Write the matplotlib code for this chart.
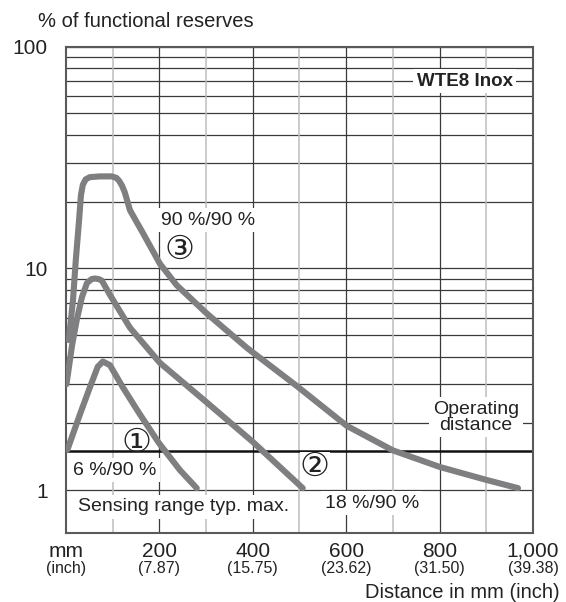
import matplotlib.pyplot as plt

plt.rcParams['font.family'] = ['Liberation Sans', 'DejaVu Sans']

# distance (mm) / functional reserve (%)
d1 = [3, 30, 51, 68, 79, 94, 122, 158, 199, 244, 280]
r1 = [1.52, 2.2, 2.9, 3.6, 3.8, 3.66, 2.9, 2.2, 1.63, 1.23, 1.02]

d2 = [1, 13, 23, 34, 45, 55, 62, 70, 77, 94, 137, 201, 300, 400, 507]
r2 = [3.0, 4.5, 5.85, 7.4, 8.6, 8.95, 9.0, 8.95, 8.8, 7.6, 5.4, 3.75, 2.5,
      1.65, 1.02]

d3 = [6, 15, 21, 28, 32, 36, 42, 51, 73, 98, 108, 114, 120, 126, 137, 165, 201, 237,
      300, 388, 494, 601, 700, 801, 901, 968]
r3 = [4.75, 7.2, 10.9, 16.5, 21.4, 23.8, 25.2, 25.8, 26, 26, 25.6, 24.8, 23.6, 22.0,
      18.3, 14.4, 10.5, 8.4, 6.3, 4.37, 2.95, 1.95, 1.51, 1.27, 1.11, 1.02]

xticks = [200, 400, 600, 800, 1000]
xlabels = ['200', '400', '600', '800', '1,000']
inch_labels = ['(7.87)', '(15.75)', '(23.62)', '(31.50)', '(39.38)']
yticks = [1, 10, 100]
operating = 1.5

fig = plt.figure(figsize=(5.66, 6.02), dpi=100)
ax = fig.add_axes([0.1166, 0.1146, 0.825, 0.8078])
ax.set_yscale('log')
ax.set_xlim(0, 1000)
ax.set_ylim(0.64, 100)

# grid
for v in list(range(1, 10)) + list(range(10, 101, 10)):
    ax.axhline(v, color='#3a3a3a', lw=0.9, zorder=1)
for v in range(100, 1000, 100):
    if v % 200 == 0:
        ax.axvline(v, color='#3a3a3a', lw=0.9, zorder=1)
    else:
        ax.axvline(v, color='#bdbdbd', lw=1.1, zorder=1)
ax.axhline(operating, color='#111111', lw=1.8, zorder=2)

for s in ax.spines.values():
    s.set_color('#5a5a5a')
    s.set_linewidth(1.5)

ax.set_yticks(yticks)
ax.set_yticklabels(['1', '10', '100'])
ax.minorticks_off()
ax.set_xticks([])
ax.tick_params(length=0, labelsize=15, pad=13, colors='#222222')

ccol = '#7f7f82'
for d, r in [(d1, r1), (d2, r2), (d3, r3)]:
    ax.plot(d, r, color=ccol, lw=4.4, solid_capstyle='round',
            solid_joinstyle='round', zorder=5)

box = dict(facecolor='white', edgecolor='none', pad=2.5)
tc = '#222222'
fs = 14
ax.text(854, 70, 'WTE8 Inox', ha='center', va='center', fontsize=13.5,
        fontweight='bold', color=tc, bbox=box, zorder=4)
ax.text(304, 16.5, '90 %/90 %', ha='center', va='center', fontsize=fs,
        color=tc, bbox=box, zorder=4)
ax.text(244, 12.1, '③', ha='center', va='center', fontsize=24,
        color=tc, bbox=dict(facecolor='white', edgecolor='none', pad=0),
        zorder=4)
ax.text(150, 1.63, '①', ha='center', va='center', fontsize=24,
        color=tc, zorder=4)
ax.text(15, 1.23, '6 %/90 %', ha='left', va='center', fontsize=fs,
        color=tc, bbox=box, zorder=4)
ax.text(25, 0.84, 'Sensing range typ. max.', ha='left', va='center',
        fontsize=fs, color=tc, bbox=box, zorder=4)
ax.text(533, 1.27, '②', ha='center', va='center', fontsize=24,
        color=tc, bbox=dict(facecolor='white', edgecolor='none', pad=0),
        zorder=4)
ax.text(655, 0.874, '18 %/90 %', ha='center', va='center', fontsize=fs,
        color=tc, bbox=box, zorder=4)
ax.text(878, 2.13, 'Operating\ndistance', ha='center', va='center',
        fontsize=fs, color=tc, linespacing=0.95, bbox=box, zorder=4)

# x axis labels in mm and inch
tr = ax.get_xaxis_transform()
ax.text(0, -0.037, 'mm', transform=tr, ha='center', va='center',
        fontsize=15, color=tc, clip_on=False)
ax.text(0, -0.074, '(inch)', transform=tr, ha='center', va='center',
        fontsize=11.5, color=tc, clip_on=False)
for x, lab, inch in zip(xticks, xlabels, inch_labels):
    ax.text(x, -0.037, lab, transform=tr, ha='center', va='center',
            fontsize=15, color=tc, clip_on=False)
    ax.text(x, -0.074, inch, transform=tr, ha='center', va='center',
            fontsize=11.5, color=tc, clip_on=False)

fig.text(0.988, 0.015, 'Distance in mm (inch)', ha='right', va='center',
         fontsize=14.5, color=tc)
fig.text(0.067, 0.964, '% of functional reserves', ha='left', va='center',
         fontsize=14.5, color=tc)

fig.savefig('out.png', dpi=100)
